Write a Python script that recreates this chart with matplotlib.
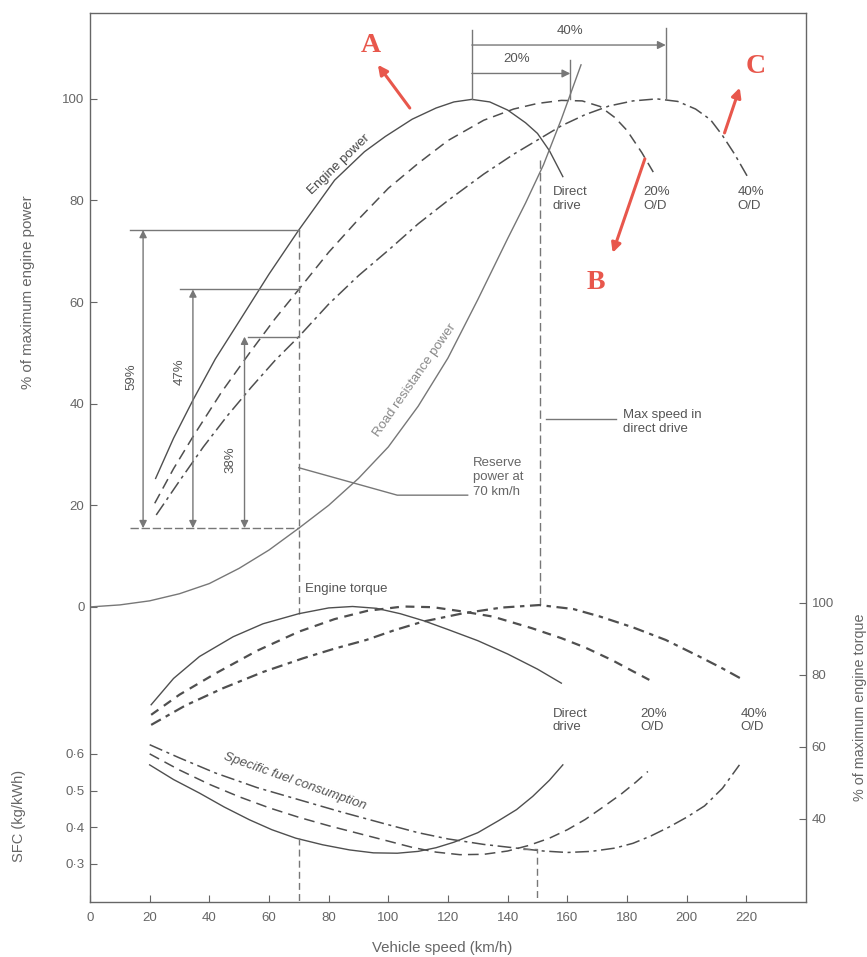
import matplotlib.pyplot as plt

plt.rcParams['font.family'] = ['Liberation Sans', 'DejaVu Sans']

# speed (km/h) / % of max engine power
pw_dd_v = [22, 28, 34.5, 42, 50, 60, 70, 82, 92, 99, 108, 116, 122, 128, 134, 140, 146, 150, 154, 158.5]
pw_dd = [25.3, 33.2, 40.7, 48.8, 56.2, 65.5, 74.2, 84, 89.6, 92.6, 96, 98.2, 99.4, 99.9, 99.4, 97.8, 95.3, 93.2, 89.8, 84.7]

pw_20_v = [21.7, 28, 34.5, 44, 53.5, 62, 70, 80, 90, 100, 110, 120, 132, 142, 150, 158, 165, 171, 176, 180, 185, 189.7]
pw_20 = [20.4, 27.2, 33.5, 42.2, 50, 56.7, 62.5, 69.8, 76.3, 82.4, 87.3, 91.8, 95.8, 98, 99.1, 99.7, 99.6, 98.5, 96.3, 93.8, 89.4, 84.7]

pw_40_v = [22.2, 30, 38, 46, 54, 62, 70, 80, 90, 100, 110, 120, 132, 142, 150, 158, 166, 174, 182, 190,
           197, 203, 208, 212, 216, 220.4]
pw_40 = [18.1, 24.8, 31.5, 37.6, 43.2, 48.5, 53.2, 59.6, 65.2, 70.2, 75.4, 80, 85.2, 89.1, 91.9, 94.7, 96.9, 98.6, 99.6, 100,
         99.5, 98, 95.9, 92.8, 89.2, 84.7]

road_v = [0, 10, 20, 30, 40, 50, 60, 70, 80, 90, 100, 110, 120, 130, 140, 146, 152, 158, 164.6]
road = [0, 0.4, 1.2, 2.6, 4.6, 7.6, 11.2, 15.5, 20, 25.3, 31.5, 39.5, 49, 60.5, 72.5, 79.5, 87, 96, 106.7]

# % of max engine torque
tq_dd_v = [20.5, 28, 36.7, 48, 58, 70, 80, 88, 96, 104, 112, 120, 130, 140, 150, 158]
tq_dd = [71.7, 79, 85.1, 90.6, 94.2, 97, 98.6, 99, 98.5, 97, 95, 92.6, 89.5, 85.8, 81.6, 77.7]

tq_20_v = [20.5, 30, 42.3, 56, 70, 82, 93, 105, 115, 125, 135, 148, 158, 166, 175, 182, 187.5]
tq_20 = [68.9, 74.5, 80.5, 86.7, 92, 95.5, 97.8, 99, 98.8, 97.6, 96.2, 93, 90.2, 87.6, 84.1, 81, 78.6]

tq_40_v = [20.5, 32, 44.6, 58, 71.4, 82, 92.6, 102, 111.6, 125, 138, 150.6, 162, 171, 182, 193, 204, 212, 219]
tq_40 = [66.1, 71.5, 76.3, 80.8, 84.6, 87.3, 89.7, 92.4, 94.8, 97.1, 98.7, 99.4, 98.3, 96.2, 93.2, 89.7, 85.2, 81.8, 78.6]

# specific fuel consumption (kg/kWh)
sfc_dd_v = [20, 28, 36.7, 45, 53.5, 61, 69, 78, 87, 95, 103, 110, 116, 122, 130, 137, 143, 148.4, 154, 158.5]
sfc_dd = [0.570, 0.530, 0.493, 0.455, 0.420, 0.393, 0.370, 0.352, 0.338, 0.330, 0.329, 0.334, 0.344, 0.359, 0.385,
          0.418, 0.448, 0.484, 0.528, 0.570]

sfc_20_v = [20, 30, 40, 50, 60, 70, 80, 90, 100, 108, 116, 124, 132, 140, 147, 154, 160, 166, 172, 178, 183, 187]
sfc_20 = [0.600, 0.556, 0.517, 0.483, 0.453, 0.427, 0.404, 0.383, 0.362, 0.345, 0.332, 0.325, 0.326, 0.335, 0.350,
          0.370, 0.393, 0.421, 0.455, 0.490, 0.523, 0.552]

sfc_40_v = [20, 30, 42, 56, 70, 84, 98, 110, 120, 132, 144, 152, 160, 168, 176, 182, 188, 194, 200, 206, 212, 217.7]
sfc_40 = [0.625, 0.589, 0.548, 0.508, 0.475, 0.442, 0.411, 0.385, 0.368, 0.353, 0.342, 0.335, 0.331, 0.334, 0.343,
          0.356, 0.376, 0.400, 0.427, 0.458, 0.506, 0.570]

# reserve power at 70 km/h (top levels of the arrows) and their labels
reserve_levels = [74.2, 62.5, 53.2]
reserve_x = [17.8, 34.5, 51.8]
reserve_start = [13.3, 30.1, 52.9]
reserve_labels = ['59%', '47%', '38%']
road_at_70 = 15.5

x_ticks = [0, 20, 40, 60, 80, 100, 120, 140, 160, 180, 200, 220]
pw_ticks = [0, 20, 40, 60, 80, 100]
tq_ticks = [40, 60, 80, 100]
sfc_ticks = [0.3, 0.4, 0.5, 0.6]
sfc_labels = ['0·3', '0·4', '0·5', '0·6']

line_c = '#4f4f4f'
grey = '#777777'
red = '#e8574c'
solid = dict(color=line_c, lw=1.0)
dash = dict(color=line_c, lw=1.1, dashes=(7, 4))
dashdot = dict(color=line_c, lw=1.1, dashes=(9, 3, 2, 3))

fig = plt.figure(figsize=(8.67, 9.57), dpi=100)
ax = fig.add_axes([0.1038, 0.0575, 0.8258, 0.9289])
ax.set_xlim(0, 240)
ax.set_ylim(-58.07, 116.9)

ax_t = ax.twinx()
ax_t.set_ylim(16.9, 263.9)
ax_s = ax.twinx()
ax_s.set_ylim(0.196, 2.621)

for a in (ax_t, ax_s):
    for s in a.spines.values():
        s.set_visible(False)
for s in ax.spines.values():
    s.set_color('#666666')
    s.set_linewidth(1.0)

ax.set_xticks(x_ticks)
ax.set_yticks(pw_ticks)
ax_t.set_yticks(tq_ticks)
ax_s.set_yticks(sfc_ticks)
ax_s.set_yticklabels(sfc_labels)
ax_s.yaxis.tick_left()
for a in (ax, ax_t, ax_s):
    a.tick_params(direction='in', length=5, color='#666666', labelcolor='#666666', labelsize=9.5, pad=4)
ax.tick_params(axis='x', pad=7)

# engine power curves
ax.plot(pw_dd_v, pw_dd, **solid)
ax.plot(pw_20_v, pw_20, **dash)
ax.plot(pw_40_v, pw_40, **dashdot)
ax.plot(road_v, road, color='#777777', lw=1.0)

# torque curves
ax_t.plot(tq_dd_v, tq_dd, **solid)
ax_t.plot(tq_20_v, tq_20, color=line_c, lw=1.6, dashes=(4, 3))
ax_t.plot(tq_40_v, tq_40, color=line_c, lw=1.6, dashes=(5, 2.5, 2, 2.5))

# sfc curves
ax_s.plot(sfc_dd_v, sfc_dd, **solid)
ax_s.plot(sfc_20_v, sfc_20, **dash)
ax_s.plot(sfc_40_v, sfc_40, **dashdot)

# reserve power construction at 70 km/h
ax.plot([70, 70], [reserve_levels[0], -1.4], color=grey, lw=1.0, dashes=(5, 3))
ax.plot([13.3, 70], [road_at_70, road_at_70], color=grey, lw=1.0, dashes=(6, 2))
for lvl, xa, xs, lab in zip(reserve_levels, reserve_x, reserve_start, reserve_labels):
    ax.plot([xs, 70], [lvl, lvl], color=grey, lw=1.0)
    ax.annotate('', xy=(xa, lvl), xytext=(xa, road_at_70),
                arrowprops=dict(arrowstyle='<|-|>', color=grey, lw=1.0, mutation_scale=11,
                                shrinkA=0, shrinkB=0))
ax.text(13.9, 45.3, reserve_labels[0], rotation=90, ha='center', va='center', fontsize=9.5, color='#555555')
ax.text(30.0, 46.3, reserve_labels[1], rotation=90, ha='center', va='center', fontsize=9.5, color='#555555')
ax.text(47.2, 29.0, reserve_labels[2], rotation=90, ha='center', va='center', fontsize=9.5, color='#555555')

# max speed in direct drive
ax.plot([151, 151], [88, 0.4], color=grey, lw=1.0, dashes=(6, 3))
ax_s.plot([70, 70], [0.370, 0.196], color=grey, lw=1.0, dashes=(5, 3))
ax_s.plot([145, 150, 150], [0.340, 0.340, 0.196], color=grey, lw=1.0, dashes=(5, 3))

# leader lines and notes
ax.plot([70, 103, 126.6], [27.4, 22, 22], color=grey, lw=1.0)
ax.text(128.3, 29.5, 'Reserve\npower at\n70 km/h', fontsize=9.5, color='#666666', va='top', linespacing=1.25)
ax.plot([152.9, 176.3], [37, 37], color=grey, lw=1.0)
ax.text(178.6, 39.0, 'Max speed in\ndirect drive', fontsize=9.5, color='#555555', va='top', linespacing=1.25)

# overdrive brackets on top
ax.plot([128, 128], [100, 113.5], color=grey, lw=1.0)
ax.plot([193, 193], [100, 114], color=grey, lw=1.0)
ax.plot([161, 161], [100, 107.7], color=grey, lw=1.0)
ax.annotate('', xy=(193, 110.6), xytext=(128, 110.6),
            arrowprops=dict(arrowstyle='-|>', color=grey, lw=1.0, mutation_scale=12, shrinkA=0, shrinkB=0))
ax.annotate('', xy=(161, 105), xytext=(128, 105),
            arrowprops=dict(arrowstyle='-|>', color=grey, lw=1.0, mutation_scale=12, shrinkA=0, shrinkB=0))
ax.text(161, 113.4, '40%', ha='center', va='center', fontsize=9.5, color='#555555')
ax.text(143, 107.9, '20%', ha='center', va='center', fontsize=9.5, color='#555555')

# curve labels
ax.text(83.4, 87, 'Engine power', rotation=44, ha='center', va='center', fontsize=9.5, color='#444444')
ax.text(109, 44.7, 'Road resistance power', rotation=55, ha='center', va='center', fontsize=9.5, color='#888888')
ax.text(72, 3.6, 'Engine torque', ha='left', va='center', fontsize=9.5, color='#555555')
ax.text(68.7, -34.3, 'Specific fuel consumption', rotation=-19.5, ha='center', va='center', fontsize=9.5,
        color='#555555', style='italic')

for xv, lab in [(155, 'Direct\ndrive'), (185.5, '20%\nO/D'), (217, '40%\nO/D')]:
    ax.text(xv, 82.8, lab, ha='left', va='top', fontsize=9.5, color='#555555', linespacing=1.2)
for xv, lab in [(155, 'Direct\ndrive'), (184.6, '20%\nO/D'), (218, '40%\nO/D')]:
    ax.text(xv, -19.8, lab, ha='left', va='top', fontsize=9.5, color='#555555', linespacing=1.2)

# red markers A, B, C
for tail, head in [((107.2, 98.2), (96.5, 106.7)), ((186, 88.2), (175.2, 69.7)), ((212.7, 93.3), (217.8, 102.2))]:
    ax.annotate('', xy=head, xytext=tail,
                arrowprops=dict(arrowstyle='-|>', color=red, lw=2.2, mutation_scale=14, shrinkA=0, shrinkB=0))
for pos, lab in [((94.1, 110.6), 'A'), ((169.5, 63.8), 'B'), ((223, 106.3), 'C')]:
    ax.text(pos[0], pos[1], lab, ha='center', va='center', fontsize=20, color=red,
            family='Liberation Serif', weight='bold')

# axis titles
fig.text(442 / 867, 1 - 948 / 957, 'Vehicle speed (km/h)', ha='center', va='center', fontsize=10.8, color='#666666')
fig.text(28 / 867, 1 - 292 / 957, '% of maximum engine power', rotation=90, ha='center', va='center',
         fontsize=10.8, color='#666666')
fig.text(19 / 867, 1 - 816 / 957, 'SFC (kg/kWh)', rotation=90, ha='center', va='center', fontsize=10.5,
         color='#666666')
fig.text(860 / 867, 1 - 707 / 957, '% of maximum engine torque', rotation=90, ha='center', va='center',
         fontsize=10.4, color='#666666')

fig.savefig('out.png', dpi=100)
